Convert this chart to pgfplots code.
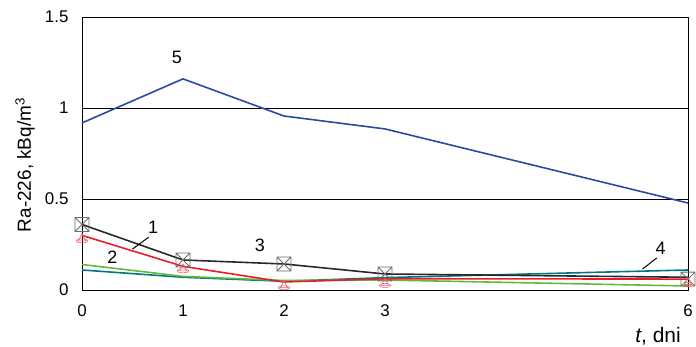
\documentclass[border=0pt]{standalone}
\usepackage{fontspec}
\setmainfont{Liberation Sans}
\usepackage{pgfplots}
\pgfplotsset{compat=1.18}
\definecolor{cblue}{RGB}{40,75,160}
\definecolor{cred}{RGB}{230,30,40}
\definecolor{cgreen}{RGB}{100,185,60}
\definecolor{cteal}{RGB}{0,120,130}
\definecolor{cblack}{RGB}{40,40,40}
\pgfdeclareplotmark{boxx}{%
  \pgfpathrectangle{\pgfpoint{-\pgfplotmarksize}{-\pgfplotmarksize}}{\pgfpoint{2\pgfplotmarksize}{2\pgfplotmarksize}}%
  \pgfpathmoveto{\pgfpoint{-\pgfplotmarksize}{-\pgfplotmarksize}}\pgfpathlineto{\pgfpoint{\pgfplotmarksize}{\pgfplotmarksize}}%
  \pgfpathmoveto{\pgfpoint{-\pgfplotmarksize}{\pgfplotmarksize}}\pgfpathlineto{\pgfpoint{\pgfplotmarksize}{-\pgfplotmarksize}}%
  \pgfusepathqstroke}
\pgfdeclareplotmark{triell}{%
  \pgfpathmoveto{\pgfpoint{0pt}{\pgfplotmarksize}}%
  \pgfpathlineto{\pgfpoint{-0.8\pgfplotmarksize}{-0.6\pgfplotmarksize}}%
  \pgfpathlineto{\pgfpoint{0.8\pgfplotmarksize}{-0.6\pgfplotmarksize}}\pgfpathclose
  \pgfpathellipse{\pgfpoint{0pt}{-0.6\pgfplotmarksize}}{\pgfpoint{1.3\pgfplotmarksize}{0pt}}{\pgfpoint{0pt}{0.45\pgfplotmarksize}}%
  \pgfusepathqstroke}
\begin{document}
\begin{tikzpicture}[x=1bp,y=1bp]
\begin{axis}[
  at={(82bp,57bp)}, anchor=south west,
  scale only axis, width=606bp, height=273bp,
  xmin=0, xmax=6, ymin=0, ymax=1.5,
  xtick={0,1,2,3,6}, ytick={0,0.5,1,1.5},
  yticklabels={0,0.5,1,1.5},
  major tick length=0pt,
  ymajorgrids, grid style={black, line width=0.7pt},
  axis line style={black, line width=0.9pt},
  tick label style={font=\fontsize{17}{19}\selectfont},
  /pgf/number format/assume math mode=true,
  xticklabel style={yshift=-11bp},
  yticklabel style={xshift=-10bp},
  clip=false,
  every axis plot/.append style={line width=1.6pt},
]
\addplot[cblue, no marks] coordinates {(0,0.918) (1,1.16) (2,0.956) (3,0.885) (6,0.478)};
\addplot[cteal, no marks] coordinates {(0,0.11) (1,0.07) (2,0.048) (3,0.068) (6,0.11)};
\addplot[cgreen, no marks] coordinates {(0,0.14) (1,0.075) (2,0.052) (3,0.055) (6,0.022)};
\addplot[cred, no marks] coordinates {(0,0.30) (1,0.13) (2,0.044) (3,0.062) (6,0.06)};
\addplot[cblack, no marks] coordinates {(0,0.36) (1,0.165) (2,0.143) (3,0.088) (6,0.07)};
\addplot[only marks, mark=boxx, mark size=7pt, mark options={gray!85!black, line width=0.8pt}] coordinates {(0,0.36) (1,0.165) (2,0.143) (3,0.088) (6,0.06)};
\addplot[only marks, mark=triell, mark size=4.5pt, mark options={cred!70, line width=0.6pt}] coordinates {(0,0.285) (1,0.12) (2,0.027) (3,0.04) (6,0.045)};
\node[font=\fontsize{18}{20}\selectfont] at (axis cs:0.705,0.346) {1};
\draw[black, line width=1pt] (axis cs:0.66,0.29) -- (axis cs:0.5,0.225);
\node[font=\fontsize{18}{20}\selectfont] at (axis cs:0.30,0.181) {2};
\node[font=\fontsize{18}{20}\selectfont] at (axis cs:1.76,0.247) {3};
\node[font=\fontsize{18}{20}\selectfont] at (axis cs:5.73,0.231) {4};
\draw[black, line width=1pt] (axis cs:5.69,0.176) -- (axis cs:5.55,0.115);
\node[font=\fontsize{18}{20}\selectfont] at (axis cs:0.94,1.28) {5};
\end{axis}
\node[font=\fontsize{19}{21}\selectfont, rotate=90] at (25bp,182bp) {Ra-226, kBq/m\textsuperscript{3}};
\node[font=\fontsize{21}{23}\selectfont, anchor=base, inner sep=0pt] at (658bp,5bp) {\textit{t}, dni};
\pgfresetboundingbox
\path (0,0) rectangle (696bp,347bp);
\end{tikzpicture}
\end{document}
